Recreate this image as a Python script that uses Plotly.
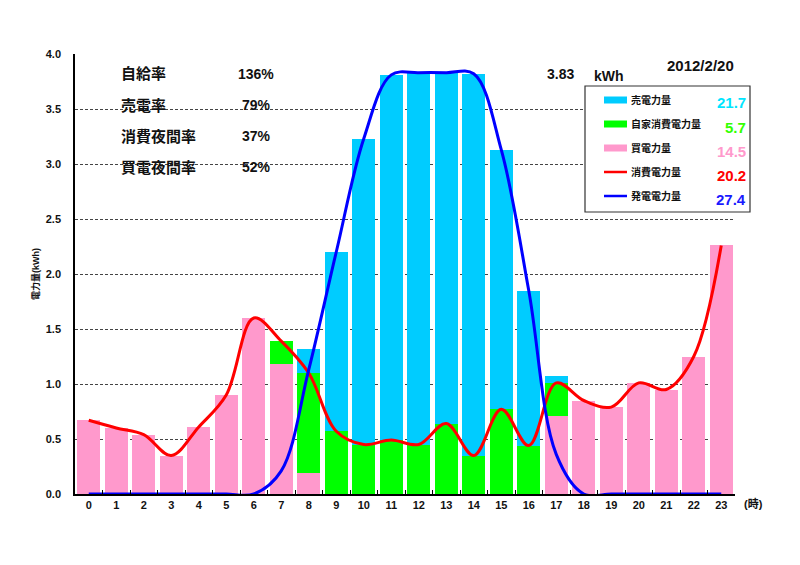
import plotly.graph_objects as go

# hourly values (kWh)
hours = [str(h) for h in range(24)]
buy = [0.67, 0.60, 0.54, 0.35, 0.61, 0.90, 1.60, 1.18, 0.19, 0, 0, 0,
       0, 0, 0, 0, 0, 0.71, 0.85, 0.79, 1.01, 0.95, 1.25, 2.26]
self_use = [0, 0, 0, 0, 0, 0, 0, 0.21, 0.91, 0.57, 0.45, 0.49,
            0.45, 0.64, 0.35, 0.77, 0.44, 0.30, 0, 0, 0, 0, 0, 0]
sell = [0, 0, 0, 0, 0, 0, 0, 0, 0.22, 1.63, 2.78, 3.32,
        3.38, 3.19, 3.47, 2.36, 1.41, 0.06, 0, 0, 0, 0, 0, 0]
consumption = [0.67, 0.60, 0.54, 0.35, 0.61, 0.90, 1.60, 1.39, 1.10, 0.57, 0.45, 0.49,
               0.45, 0.64, 0.35, 0.77, 0.44, 1.01, 0.85, 0.79, 1.01, 0.95, 1.25, 2.26]
generation = [0, 0, 0, 0, 0, 0, 0, 0.21, 1.13, 2.20, 3.23, 3.81,
              3.83, 3.83, 3.82, 3.13, 1.85, 0.36, 0, 0, 0, 0, 0, 0]

legend_names = ["売電力量", "自家消費電力量", "買電力量", "消費電力量", "発電電力量"]
legend_totals = ["21.7", "5.7", "14.5", "20.2", "27.4"]
legend_colors = ["#00ccff", "#00ff00", "#ff99cc", "#ff0000", "#0000ff"]
total_colors = ["#00e5ff", "#33ff00", "#ff99cc", "#ff0000", "#1a1aff"]

rate_names = ["自給率", "売電率", "消費夜間率", "買電夜間率"]
rate_values = ["136%", "79%", "37%", "52%"]

peak = "3.83"
date = "2012/2/20"

FONT = "Liberation Sans, Arial, Noto Sans CJK JP, sans-serif"

# plot area in screen pixels (page has an 8px body margin)
OFF = 8
L, R, T, B = 75, 735, 54, 494


def px(x):
    return (x - L) / (R - L)


def py(y):
    return (B - y) / (B - T)


fig = go.Figure()
fig.add_trace(go.Bar(x=hours, y=buy, marker_color=legend_colors[2], marker_line_width=0, name="買電力量"))
fig.add_trace(go.Bar(x=hours, y=self_use, marker_color=legend_colors[1], marker_line_width=0, name="自家消費電力量"))
fig.add_trace(go.Bar(x=hours, y=sell, marker_color=legend_colors[0], marker_line_width=0, name="売電力量"))
fig.add_trace(go.Scatter(x=hours, y=consumption, mode="lines", name="消費電力量",
                         line=dict(color="#ff0000", width=3, shape="spline", smoothing=1)))
fig.add_trace(go.Scatter(x=hours, y=generation, mode="lines", name="発電電力量",
                         line=dict(color="#0000ff", width=3, shape="spline", smoothing=1)))

shapes = []
annotations = []

# hand-made legend box
shapes.append(dict(type="rect", xref="paper", yref="paper",
                   x0=px(585), x1=px(750), y0=py(212), y1=py(86),
                   line=dict(color="#333333", width=1.2), fillcolor="white", layer="above"))
for i, (nm, tot, c, tc) in enumerate(zip(legend_names, legend_totals, legend_colors, total_colors)):
    yy = 100 + 24 * i
    shapes.append(dict(type="line", xref="paper", yref="paper",
                       x0=px(604), x1=px(627), y0=py(yy), y1=py(yy),
                       line=dict(color=c, width=7 if i < 3 else 2.5), layer="above"))
    annotations.append(dict(text="<b>" + nm + "</b>", xref="paper", yref="paper", x=px(629), y=py(yy),
                            xanchor="left", yanchor="middle", showarrow=False,
                            font=dict(size=10, color="#111111", family=FONT)))
    annotations.append(dict(text="<b>" + tot + "</b>", xref="paper", yref="paper", x=px(748), y=py(yy + 3),
                            xanchor="right", yanchor="middle", showarrow=False,
                            font=dict(size=15, color=tc, family=FONT)))

# rates text block
for i, (nm, v) in enumerate(zip(rate_names, rate_values)):
    yy = 74 + 31 * i
    annotations.append(dict(text="<b>" + nm + "</b>", xref="paper", yref="paper", x=px(119), y=py(yy),
                            xanchor="left", yanchor="middle", showarrow=False,
                            font=dict(size=15, color="#111111", family=FONT)))
    annotations.append(dict(text="<b>" + v + "</b>", xref="paper", yref="paper", x=px(256), y=py(yy),
                            xanchor="center", yanchor="middle", showarrow=False,
                            font=dict(size=14, color="#111111", family=FONT)))

annotations += [
    dict(text="<b>" + peak + "</b>", xref="paper", yref="paper", x=px(560), y=py(74), xanchor="center",
         yanchor="middle", showarrow=False, font=dict(size=14, color="#111111", family=FONT)),
    dict(text="<b>kWh</b>", xref="paper", yref="paper", x=px(609), y=py(76), xanchor="center",
         yanchor="middle", showarrow=False, font=dict(size=14, color="#111111", family=FONT)),
    dict(text="<b>" + date + "</b>", xref="paper", yref="paper", x=px(700), y=py(65), xanchor="center",
         yanchor="middle", showarrow=False, font=dict(size=15, color="#111111", family=FONT)),
    dict(text="<b>電力量(kWh)</b>", xref="paper", yref="paper", x=px(35), y=py(274), xanchor="center",
         yanchor="middle", textangle=-90, showarrow=False,
         font=dict(size=9, color="#111111", family=FONT)),
    dict(text="<b>(時)</b>", xref="paper", yref="paper", x=px(753), y=py(503), xanchor="center",
         yanchor="middle", showarrow=False, font=dict(size=11, color="#111111", family=FONT)),
]

fig.update_layout(
    width=800, height=565,
    margin=dict(l=L - OFF, r=800 - R + OFF, t=T - OFF, b=565 - B + OFF),
    paper_bgcolor="white", plot_bgcolor="white",
    barmode="stack", bargap=0.15,
    showlegend=False,
    font=dict(family=FONT, size=11, color="#111111"),
    shapes=shapes,
    annotations=annotations,
)
fig.update_xaxes(type="category", showgrid=False, showline=True, linecolor="black", linewidth=1.5,
                 ticks="inside", tickson="boundaries", ticklen=4, tickcolor="black",
                 tickfont=dict(size=11, weight="bold"))
fig.update_yaxes(range=[0, 4], dtick=0.5, tickformat=".1f", showgrid=True, griddash="3px,2px",
                 gridcolor="#444444", gridwidth=1, zeroline=False, showline=True,
                 linecolor="black", linewidth=1.5, ticks="", ticklabelstandoff=10,
                 tickfont=dict(size=11, weight="bold"))

fig.write_html("out.html")
